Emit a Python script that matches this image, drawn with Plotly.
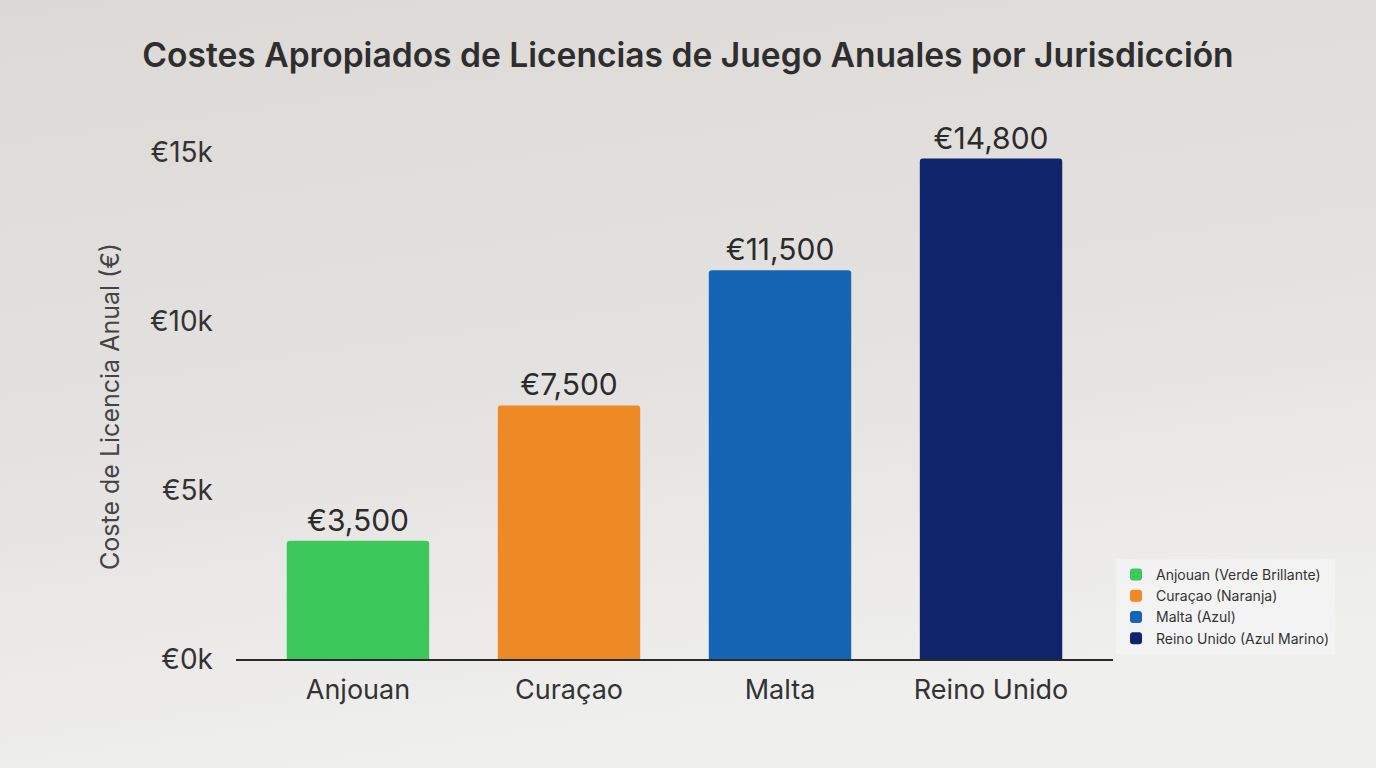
import base64
import plotly.graph_objects as go

categories = ["Anjouan", "Curaçao", "Malta", "Reino Unido"]
values = [3500, 7500, 11500, 14800]
legend_names = ["Anjouan (Verde Brillante)", "Curaçao (Naranja)", "Malta (Azul)", "Reino Unido (Azul Marino)"]
colors = ["#3DC85B", "#EE8A25", "#1664B4", "#0F246A"]
tick_vals = [0, 5000, 10000, 15000]
tick_text = ["€0k", "€5k", "€10k", "€15k"]

W, H = 1376, 768
ML, MR, MT, MB = 236, 263, 118, 109
PW, PH = W - ML - MR, H - MT - MB

fig = go.Figure()
for cat, val, name, col in zip(categories, values, legend_names, colors):
    fig.add_trace(go.Bar(
        x=[cat], y=[val], name=name,
        marker=dict(color=col, line=dict(width=0)),
        width=0.675,
        text=[f"€{val:,}"], textposition="outside",
        textfont=dict(size=30, color="#2b2b2b", family="Inter, Roboto, sans-serif"),
        cliponaxis=False,
    ))

svg = (
    f'<svg xmlns="http://www.w3.org/2000/svg" width="{W}" height="{H}">'
    '<defs><linearGradient id="g" x1="0" y1="0" x2="0.25" y2="1">'
    '<stop offset="0" stop-color="#DCD9D6"/>'
    '<stop offset="0.55" stop-color="#E4E2E0"/>'
    '<stop offset="1" stop-color="#EFEFEE"/>'
    '</linearGradient></defs>'
    f'<rect width="{W}" height="{H}" fill="url(#g)"/></svg>'
)
src = "data:image/svg+xml;base64," + base64.b64encode(svg.encode()).decode()

fig.update_layout(
    width=W, height=H,
    margin=dict(l=ML, r=MR, t=MT, b=MB, pad=0),
    paper_bgcolor="#E4E2E0",
    plot_bgcolor="rgba(0,0,0,0)",
    barmode="overlay",
    barcornerradius=3,
    font=dict(family="Inter, Roboto, sans-serif", color="#333333"),
    title=dict(
        text="Costes Apropiados de Licencias de Juego Anuales por Jurisdicción",
        x=0.5, xanchor="center", y=1 - 55 / H, yanchor="middle",
        font=dict(size=33.6, color="#2e2e2e", family="Inter, Roboto, sans-serif", weight=600),
    ),
    xaxis=dict(
        type="category", range=[-0.578, 3.578],
        showgrid=False, zeroline=False,
        showline=True, linecolor="#2a2a2a", linewidth=2,
        ticks="", tickfont=dict(size=27, color="#333333"),
        ticklabelstandoff=6,
    ),
    yaxis=dict(
        range=[0, 16000], tickvals=tick_vals, ticktext=tick_text,
        showgrid=False, zeroline=False, showline=False,
        ticks="", tickfont=dict(size=28, color="#333333"),
        ticklabelstandoff=22,
    ),
    annotations=[dict(
        text="Coste de Licencia Anual (€)", textangle=-90,
        xref="paper", yref="paper",
        x=(110 - ML) / PW, y=(H - MB - 406) / PH,
        xanchor="center", yanchor="middle", showarrow=False,
        font=dict(size=25, color="#444444"),
    )],
    legend=dict(
        x=(1116 - ML) / PW, xanchor="left",
        y=(H - MB - 559) / PH, yanchor="top",
        bgcolor="rgba(243,243,243,0.9)", borderwidth=0,
        font=dict(size=14, color="#333333"),
        itemwidth=30,
    ),
    showlegend=True,
    images=[dict(
        source=src, xref="paper", yref="paper",
        x=-ML / PW, y=1 + MT / PH, sizex=W / PW, sizey=H / PH,
        xanchor="left", yanchor="top", sizing="stretch", layer="below",
    )],
)

fig.write_html("out.html", config={"displayModeBar": False},
               post_script="document.body.style.margin='0';")
